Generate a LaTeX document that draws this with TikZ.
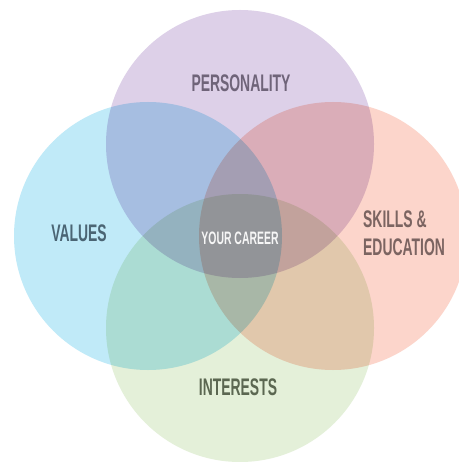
\documentclass[tikz,border=0pt]{standalone}
\usepackage{fontspec}
\newfontfamily\labfont{Liberation Sans Bold}[FakeStretch=0.58]
\definecolor{cpurple}{HTML}{DDD0E8}
\definecolor{cblue}{HTML}{C0EAF8}
\definecolor{cpink}{HTML}{FCD5CB}
\definecolor{cgreen}{HTML}{E4F0D9}
\definecolor{tpurple}{HTML}{6F6479}
\definecolor{tblue}{HTML}{4B6574}
\definecolor{tpink}{HTML}{7B6461}
\definecolor{tgreen}{HTML}{5B6751}
\definecolor{tcenter}{HTML}{F6F6F6}
\tikzset{
  lab/.style={font=\labfont\fontsize{24}{28}\selectfont, inner sep=0pt},
  circ/.style={draw=none}
}
\begin{document}
\begin{tikzpicture}[x=1pt,y=-1pt]
\useasboundingbox (0,0) rectangle (458,462);
\fill[white] (0,0) rectangle (458,462);
\begin{scope}[blend group=multiply]
  \fill[cpurple] (240,144) circle (134pt);
  \fill[cblue]   (148,236) circle (134pt);
  \fill[cpink]   (333,236) circle (134pt);
  \fill[cgreen]  (240,328) circle (134pt);
\end{scope}
\node[lab, text=tpurple] (personality) at (241,83) {PERSONALITY};
\node[lab, text=tblue] (values) at (79,233) {VALUES};
\node[lab, text=tpink, anchor=west, align=left] (skills) at (363,233) {SKILLS \&\\EDUCATION};
\node[lab, text=tgreen] (interests) at (238,387) {INTERESTS};
\node[lab, text=tcenter, font=\labfont\fontsize{18}{20}\selectfont] (career) at (240,238) {YOUR CAREER};
\end{tikzpicture}
\end{document}
